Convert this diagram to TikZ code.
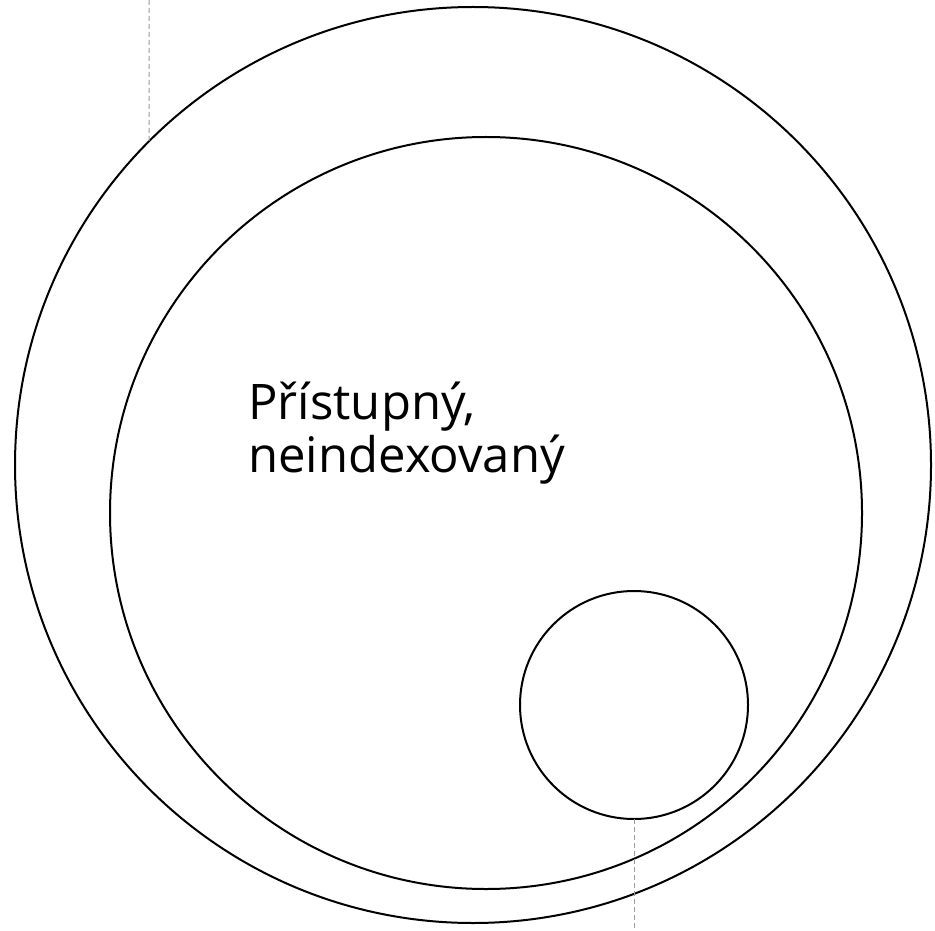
\documentclass[tikz,border=0pt]{standalone}
\usepackage{fontspec}
\setmainfont{Open Sans}
\usepackage{tikz}
\usetikzlibrary{positioning, calc}
\definecolor{guidegray}{HTML}{9A9A9A}
\tikzset{
    ring/.style={circle, draw=black, line width=1pt, inner sep=0pt, outer sep=0pt},
    guide/.style={draw=guidegray, line width=0.5pt, dash pattern=on 2.5pt off 1.5pt},
    caption/.style={align=left, inner sep=0pt, font=\fontsize{24.5}{26.5}\selectfont}
}

\begin{document}
\begin{tikzpicture}[x=0.5pt, y=-0.5pt]
    \useasboundingbox (0,0) rectangle (935,930);
    % the three circles
    \node[ring, minimum size=458pt] (outer) at (473,465) {};
    \node[ring, minimum size=376pt] (middle) at (486,513) {};
    \node[ring, minimum size=114pt] (inner) at (634,705) {};
    \node[caption, anchor=base west] (label) at (248,472) {Přístupný,\\neindexovaný};
    % guide lines
    \coordinate (topend) at (149,0);
    \coordinate (botend) at (634,930);
    \draw[guide] (topend) -- (outer.135);
    \draw[guide] (inner.south) -- (inner.south |- botend);
\end{tikzpicture}
\end{document}
